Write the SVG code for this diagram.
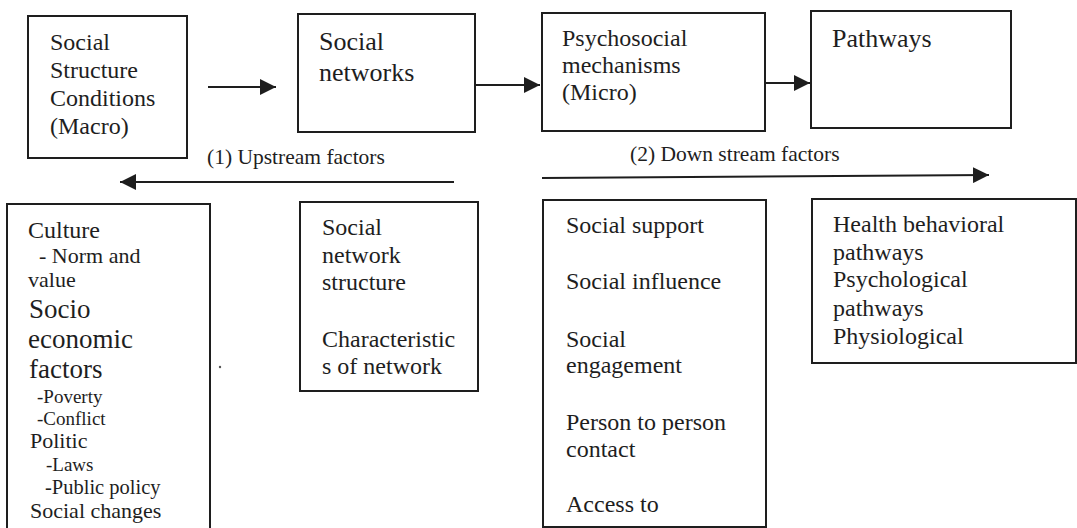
<svg xmlns="http://www.w3.org/2000/svg" width="1077" height="528" viewBox="0 0 1077 528">
  <style>
    .box { fill: #ffffff; stroke: #1e1e1e; stroke-width: 2; }
    text { fill: #1e1e1e; }
    .f24 { font-size: 24px; }
    .f26 { font-size: 26px; }
    .f27 { font-size: 27px; }
    .f22 { font-size: 22px; }
    .f19 { font-size: 19px; }
    .f21 { font-size: 21.5px; }
    .conn { stroke: #1e1e1e; stroke-width: 2; fill: none; marker-end: url(#arrow); }
  </style>
  <defs>
    <marker id="arrow" markerUnits="userSpaceOnUse" markerWidth="17" markerHeight="16" refX="16" refY="8" orient="auto">
      <path d="M0,0 L16,8 L0,16 z" fill="#1e1e1e"/>
    </marker>
  </defs>
  <rect width="1077" height="528" fill="#ffffff"/>

  <g font-family="Liberation Serif, Times New Roman, Times, serif">
  <!-- Top row -->
  <g id="social-structure">
    <rect class="box" x="28" y="16" width="159" height="142"/>
    <text class="f24" x="50" y="50">Social</text>
    <text class="f24" x="50" y="78">Structure</text>
    <text class="f24" x="50" y="106">Conditions</text>
    <text class="f24" x="50" y="134">(Macro)</text>
  </g>
  <g id="social-networks">
    <rect class="box" x="298" y="14" width="177" height="118"/>
    <text class="f26" x="319" y="50">Social</text>
    <text class="f26" x="319" y="81">networks</text>
  </g>
  <g id="psychosocial">
    <rect class="box" x="542" y="13" width="223" height="118"/>
    <text class="f24" x="562" y="46">Psychosocial</text>
    <text class="f24" x="562" y="73">mechanisms</text>
    <text class="f24" x="562" y="100">(Micro)</text>
  </g>
  <g id="pathways">
    <rect class="box" x="811" y="11" width="200" height="117"/>
    <text class="f26" x="832" y="47">Pathways</text>
  </g>

  <!-- Flow labels -->
  <g id="upstream-label">
    <text class="f21" x="207" y="164">(1) Upstream factors</text>
  </g>
  <g id="downstream-label">
    <text class="f21" x="630" y="161">(2) Down stream factors</text>
  </g>

  <!-- Connectors -->
  <g id="connectors">
    <line class="conn" x1="208" y1="87" x2="276" y2="87"/>
    <line class="conn" x1="475" y1="85" x2="540" y2="85"/>
    <line class="conn" x1="765" y1="83" x2="810" y2="83"/>
    <line class="conn" x1="454" y1="182" x2="120" y2="182"/>
    <line class="conn" x1="542" y1="178" x2="989" y2="175"/>
  </g>

  <!-- Bottom row -->
  <g id="upstream-factors">
    <rect class="box" x="7" y="204" width="203" height="340"/>
    <text class="f24" x="28" y="238">Culture</text>
    <text class="f22" x="39" y="263">- Norm and</text>
    <text class="f22" x="28" y="287">value</text>
    <text class="f27" x="29" y="318">Socio</text>
    <text class="f27" x="28" y="348">economic</text>
    <text class="f27" x="29" y="378">factors</text>
    <text class="f19" x="37" y="403">-Poverty</text>
    <text class="f19" x="37" y="425">-Conflict</text>
    <text class="f22" x="30" y="448">Politic</text>
    <text class="f19" x="46" y="471">-Laws</text>
    <text class="f19" x="45" y="494" style="font-size:20.5px">-Public policy</text>
    <text class="f22" x="30" y="518">Social changes</text>
  </g>
  <circle cx="220" cy="367" r="1.2" fill="#555555"/>
  <g id="network-structure">
    <rect class="box" x="300" y="202" width="178" height="189"/>
    <text class="f24" x="322" y="235">Social</text>
    <text class="f24" x="322" y="263">network</text>
    <text class="f24" x="322" y="290">structure</text>
    <text class="f24" x="322" y="347">Characteristic</text>
    <text class="f24" x="322" y="374">s of network</text>
  </g>
  <g id="mechanisms">
    <rect class="box" x="543" y="200" width="223" height="327"/>
    <text class="f24" x="566" y="233">Social support</text>
    <text class="f24" x="566" y="289">Social influence</text>
    <text class="f24" x="566" y="347">Social</text>
    <text class="f24" x="566" y="373">engagement</text>
    <text class="f24" x="566" y="430">Person to person</text>
    <text class="f24" x="566" y="457">contact</text>
    <text class="f24" x="566" y="512">Access to</text>
  </g>
  <g id="health-pathways">
    <rect class="box" x="812" y="199" width="264" height="164"/>
    <text class="f24" x="833" y="232">Health behavioral</text>
    <text class="f24" x="833" y="260">pathways</text>
    <text class="f24" x="833" y="287">Psychological</text>
    <text class="f24" x="833" y="316">pathways</text>
    <text class="f24" x="833" y="344">Physiological</text>
  </g>
  </g>
</svg>
